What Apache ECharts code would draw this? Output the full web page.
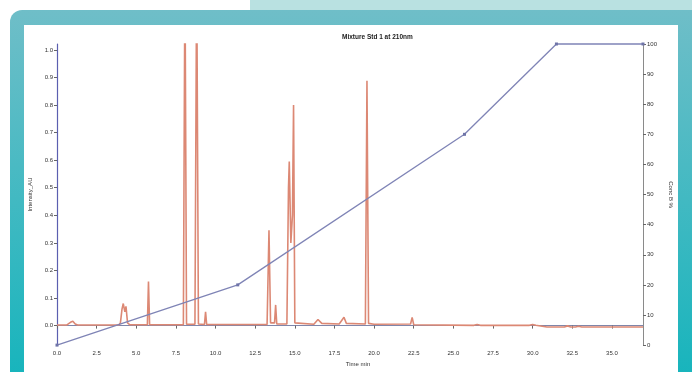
<!DOCTYPE html>
<html>
<head>
<meta charset="utf-8">
<script src="https://cdn.jsdelivr.net/npm/echarts@6/dist/echarts.min.js"></script>
<style>
html,body{margin:0;padding:0;background:#fff;}
#c{width:692px;height:372px;}
</style>
</head>
<body>
<div id="c"></div>
<script>
// ---- data ----
var chromTime = [0.0,0.6,0.85,1.0,1.15,1.3,3.9,4.0,4.1,4.18,4.28,4.35,4.45,4.6,5.7,5.77,5.84,7.97,8.07,8.17,8.7,8.81,8.92,9.3,9.37,9.44,13.25,13.37,13.47,13.72,13.79,13.86,14.5,14.6,14.65,14.75,14.85,14.92,15.0,15.1,16.2,16.46,16.7,17.8,18.1,18.16,18.25,19.45,19.55,19.65,20.0,22.3,22.4,22.5,22.6,26.3,26.5,26.7,29.8,30.0,30.2,30.9,32.0,32.2,32.4,32.7,32.9,33.1,36.96];
var chromAbs  = [0.002,0.002,0.012,0.016,0.006,0.002,0.002,0.01,0.06,0.08,0.05,0.07,0.01,0.003,0.003,0.16,0.003,0.003,1.3,0.005,0.005,1.3,0.006,0.004,0.05,0.004,0.004,0.346,0.01,0.01,0.075,0.006,0.006,0.5,0.595,0.3,0.4,0.80,0.01,0.004,0.005,0.022,0.008,0.006,0.03,0.035,0.008,0.006,0.888,0.008,0.005,0.006,0.03,0.003,0.001,0.001,0.004,0.001,0.001,0.004,0.001,-0.005,-0.005,-0.001,-0.005,-0.005,-0.002,-0.005,-0.005];
var gradTime = [0, 11.4, 25.7, 31.5, 36.96];
var gradConc = [0, 20, 70, 100, 100];
var xTicks = [0,2.5,5,7.5,10,12.5,15,17.5,20,22.5,25,27.5,30,32.5,35];
var leftTicks = [0,0.1,0.2,0.3,0.4,0.5,0.6,0.7,0.8,0.9,1.0];
var rightTicks = [0,10,20,30,40,50,60,70,80,90,100];
var titleText = 'Mixture Std 1 at 210nm';
var xName = 'Time min';
var leftName = 'Intensity_AU';
var rightName = 'Conc B %';

var chrom = chromTime.map(function(t,i){return [t, chromAbs[i]];});
var grad = gradTime.map(function(t,i){return [t, gradConc[i]];});

var FONT = 'Liberation Sans';
var chart = echarts.init(document.getElementById('c'), null, {renderer:'canvas'});
chart.setOption({
  animation:false,
  backgroundColor:'#ffffff',
  graphic:[
    {type:'rect', z:-100, shape:{x:250,y:0,width:442,height:16}, style:{fill:'#b9e1e1'}},
    {type:'rect', z:-99, shape:{x:10,y:10,width:700,height:380,r:12},
      style:{fill:new echarts.graphic.LinearGradient(0,0,0,1,[{offset:0,color:'#6fbec8'},{offset:1,color:'#14b4bc'}])}},
    {type:'rect', z:-98, shape:{x:24,y:25,width:654,height:360}, style:{fill:'#ffffff'}}
  ],
  title:{text:titleText, left:337, top:29, textStyle:{fontSize:6.5, fontWeight:'bold', color:'#222', fontFamily:FONT}},
  grid:{left:57, right:49, top:44, bottom:19, containLabel:false},
  xAxis:{
    type:'value', min:0, max:36.96,
    name:xName, nameLocation:'middle', nameGap:14,
    nameTextStyle:{fontSize:6, color:'#333', fontFamily:FONT, padding:[0,0,0,16]},
    axisLine:{lineStyle:{color:'#7f86aa', width:1}},
    axisTick:{show:true, length:3, customValues:xTicks, lineStyle:{color:'#666'}},
    axisLabel:{customValues:xTicks, fontSize:6, color:'#333', fontFamily:FONT, margin:5,
      formatter:function(v){return v.toFixed(1);}},
    splitLine:{show:false}
  },
  yAxis:[
    {type:'value', min:-0.0707, max:1.0212, position:'left',
      name:leftName, nameLocation:'middle', nameGap:19, nameRotate:90,
      nameTextStyle:{fontSize:6, color:'#333', fontFamily:FONT},
      axisLine:{show:true, lineStyle:{color:'#5b5fb0', width:1.2}},
      axisTick:{show:true, length:3, customValues:leftTicks, lineStyle:{color:'#666'}},
      axisLabel:{customValues:leftTicks, fontSize:6, color:'#333', fontFamily:FONT, margin:4,
        formatter:function(v){return v.toFixed(1);}},
      splitLine:{show:false}},
    {type:'value', min:0, max:100, position:'right',
      name:rightName, nameLocation:'middle', nameGap:20, nameRotate:-90,
      nameTextStyle:{fontSize:6, color:'#333', fontFamily:FONT},
      axisLine:{show:true, lineStyle:{color:'#8a8a8a', width:1}},
      axisTick:{show:true, length:3, customValues:rightTicks, lineStyle:{color:'#666'}},
      axisLabel:{customValues:rightTicks, fontSize:6, color:'#333', fontFamily:FONT, margin:4},
      splitLine:{show:false}}
  ],
  series:[
    {type:'line', name:'UV', data:chrom, xAxisIndex:0, yAxisIndex:0, symbol:'none', clip:true,
      lineStyle:{color:'#dc8874', width:1.6}, z:3},
    {type:'line', name:'Gradient', data:grad, xAxisIndex:0, yAxisIndex:1, symbol:'rect', symbolSize:3,
      itemStyle:{color:'#6f74a8'}, lineStyle:{color:'#7f84b6', width:1.3}, z:4, clip:false}
  ]
});
</script>
</body>
</html>
